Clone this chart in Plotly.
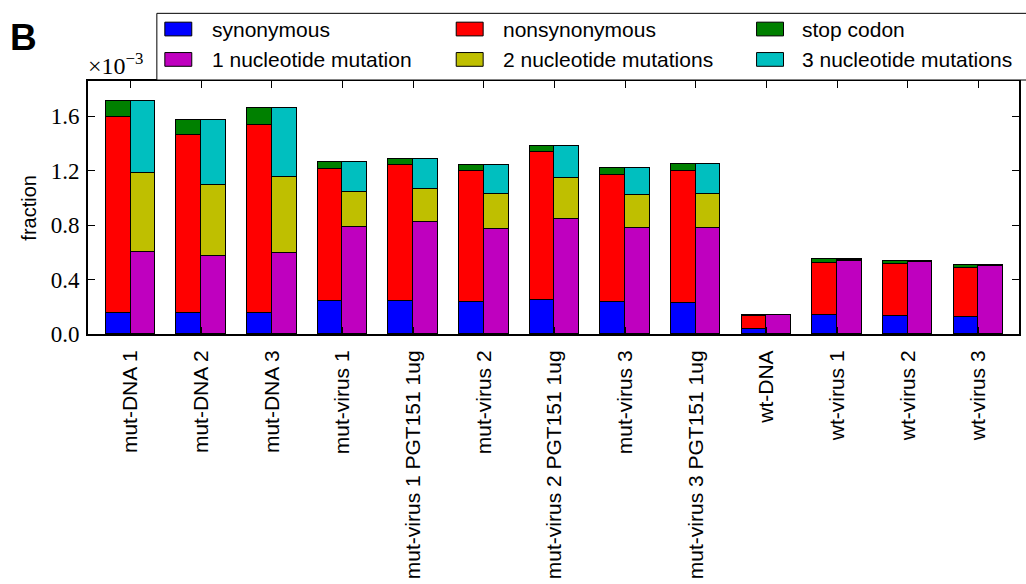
import plotly.graph_objects as go

# ---- data (values in units of 1e-3) ----
categories = ["mut-DNA 1", "mut-DNA 2", "mut-DNA 3", "mut-virus 1",
              "mut-virus 1 PGT151 1ug", "mut-virus 2", "mut-virus 2 PGT151 1ug",
              "mut-virus 3", "mut-virus 3 PGT151 1ug", "wt-DNA",
              "wt-virus 1", "wt-virus 2", "wt-virus 3"]
synonymous = [0.156, 0.152, 0.154, 0.240, 0.245, 0.233, 0.253, 0.238, 0.231, 0.038, 0.137, 0.130, 0.125]
nonsynonymous = [1.440, 1.314, 1.384, 0.973, 0.997, 0.965, 1.083, 0.934, 0.970, 0.096, 0.383, 0.383, 0.359]
stop_codon = [0.120, 0.105, 0.123, 0.051, 0.045, 0.048, 0.047, 0.048, 0.050, 0.008, 0.031, 0.026, 0.026]
one_nt = [0.604, 0.575, 0.599, 0.789, 0.825, 0.775, 0.845, 0.780, 0.780, 0.138, 0.539, 0.527, 0.498]
two_nt = [0.582, 0.522, 0.553, 0.258, 0.244, 0.255, 0.300, 0.240, 0.252, 0.003, 0.008, 0.008, 0.008]
three_nt = [0.530, 0.474, 0.509, 0.217, 0.218, 0.216, 0.238, 0.200, 0.219, 0.001, 0.004, 0.004, 0.004]
y_ticks = [0.0, 0.4, 0.8, 1.2, 1.6]
y_tick_text = ["0.0", "0.4", "0.8", "1.2", "1.6"]

left_series = [("synonymous", synonymous, "#0000ff"),
               ("nonsynonymous", nonsynonymous, "#ff0000"),
               ("stop codon", stop_codon, "#008000")]
right_series = [("1 nucleotide mutation", one_nt, "#bf00bf"),
                ("2 nucleotide mutations", two_nt, "#bfbf00"),
                ("3 nucleotide mutations", three_nt, "#00bfbf")]

W, H = 1026, 584
ML, MR, MT, MB = 88, 5, 81, 245
PW, PH = W - ML - MR, H - MT - MB

def px(x):
    return (x - ML) / PW

def py(y):
    return (H - MB - y) / PH

BW = 0.35
idx = list(range(len(categories)))

fig = go.Figure()
for name, vals, col in left_series:
    fig.add_trace(go.Bar(x=[i - BW / 2 for i in idx], y=vals, width=BW, name=name,
                         marker=dict(color=col, line=dict(color="black", width=1.2)),
                         showlegend=False))
for name, vals, col in right_series:
    fig.add_trace(go.Bar(x=[i + BW / 2 for i in idx], y=vals, width=BW, name=name,
                         marker=dict(color=col, line=dict(color="black", width=1.2)),
                         showlegend=False))

shapes = []
annotations = []
# legend frame
shapes.append(dict(type="rect", xref="paper", yref="paper",
                   x0=px(157), x1=px(1040), y0=py(80), y1=py(12),
                   line=dict(color="black", width=1), fillcolor="white", layer="above"))
legend_items = [(left_series[0], 0, 0), (left_series[1], 1, 0), (left_series[2], 2, 0),
                (right_series[0], 0, 1), (right_series[1], 1, 1), (right_series[2], 2, 1)]
col_sw = [165, 457, 758]
col_tx = [210, 502, 802]
row_c = [28, 59]
for (name, _, col), c, r in legend_items:
    shapes.append(dict(type="rect", xref="paper", yref="paper",
                       x0=px(col_sw[c]), x1=px(col_sw[c] + 27),
                       y0=py(row_c[r] + 7), y1=py(row_c[r] - 7),
                       line=dict(color="black", width=1), fillcolor=col, layer="above"))
    annotations.append(dict(text=name, xref="paper", yref="paper",
                            x=px(col_tx[c]), y=py(row_c[r]), xanchor="left", yanchor="middle",
                            showarrow=False,
                            font=dict(family="Liberation Sans, Arial", size=21, color="black")))

annotations.append(dict(text="fraction", xref="paper", yref="paper", x=px(28), y=py(210),
                        textangle=-90, xanchor="center", yanchor="middle", showarrow=False,
                        font=dict(family="Liberation Sans, Arial", size=20, color="black")))
annotations.append(dict(text="×10<sup>−3</sup>", xref="paper", yref="paper", x=px(86), y=py(81),
                        xanchor="left", yanchor="bottom", showarrow=False,
                        font=dict(family="Liberation Serif, Times New Roman", size=24, color="black")))
annotations.append(dict(text="<b>B</b>", xref="paper", yref="paper", x=px(8), y=py(37),
                        xanchor="left", yanchor="middle", showarrow=False,
                        font=dict(family="Liberation Sans, Arial", size=37, color="black")))

fig.update_layout(
    width=W, height=H, barmode="stack", bargap=0,
    margin=dict(l=ML, r=MR, t=MT, b=MB, pad=0),
    paper_bgcolor="white", plot_bgcolor="white",
    shapes=shapes, annotations=annotations,
    xaxis=dict(range=[-0.602, 12.575], tickmode="array", tickvals=idx, ticktext=categories,
               tickangle=-90, ticks="inside", ticklen=7, tickcolor="black", tickwidth=1,
               showline=True, linecolor="black", linewidth=2, mirror="ticks",
               showgrid=False, zeroline=False, ticklabelstandoff=6,
               tickfont=dict(family="Liberation Sans, Arial", size=21, color="black")),
    yaxis=dict(range=[0, 1.86], tickmode="array", tickvals=y_ticks, ticktext=y_tick_text,
               ticks="inside", ticklen=7, tickcolor="black", tickwidth=1,
               showline=True, linecolor="black", linewidth=2, mirror="ticks",
               showgrid=False, zeroline=False, ticklabelstandoff=2,
               tickfont=dict(family="Liberation Serif, Times New Roman", size=23, color="black")),
)

fig.write_html("out.html")
